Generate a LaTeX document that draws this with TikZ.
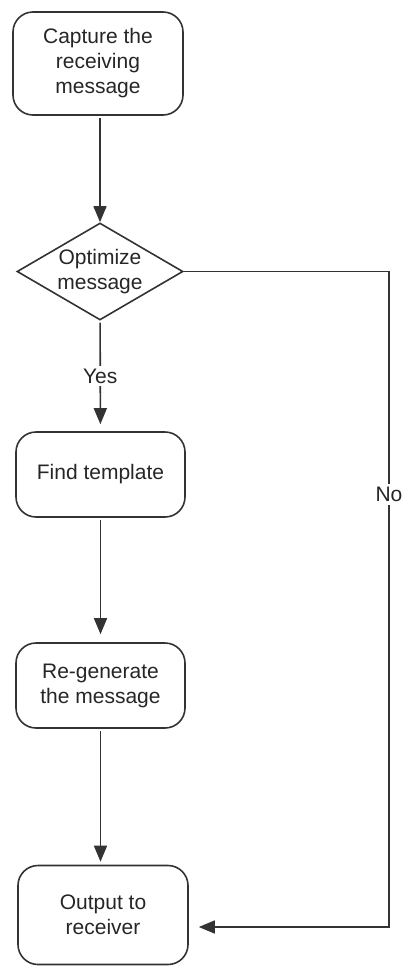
\documentclass[tikz,border=0pt]{standalone}
\usepackage{fontspec}
\setmainfont{Liberation Sans}
\usetikzlibrary{shapes.geometric,arrows.meta}

\begin{document}
\begin{tikzpicture}[x=1pt,y=-1pt,line width=1.6,
	box/.style={draw=black!80,rounded corners=20,align=center,inner sep=0,text=black!85,font=\fontsize{21}{25}\selectfont},
	decide/.style={draw=black!80,diamond,aspect=1.68,inner sep=0,minimum width=166,minimum height=97,align=center,text=black!85,font=\fontsize{21}{25}\selectfont},
	flow/.style={draw=black!80,-{Triangle[length=16,width=13]},shorten >=7,shorten <=2},
	tag/.style={fill=white,inner sep=3,text=black!85,font=\fontsize{21}{25}\selectfont}]
			\useasboundingbox (0,0) rectangle (405,967);
			\node[box,minimum width=170,minimum height=103] (capture) at (98,63.5) {Capture the\\receiving\\message};
			\node[decide] (optimize) at (100,271.5) {Optimize\\message};
			\node[box,minimum width=169,minimum height=85] (find) at (100.5,474.5) {Find template};
			\node[box,minimum width=169,minimum height=85] (regen) at (100.5,685.5) {Re-generate\\the message};
			\node[box,minimum width=170,minimum height=99] (output) at (103,915) {Output to\\receiver};
			\coordinate (noturn) at (389,927);
			\draw[flow,shorten >=0] (optimize.north |- capture.south) -- (optimize.north);
			\draw[flow] (optimize) -- node[tag]{Yes} (find);
			\draw[flow,shorten >=8] (find) -- (regen);
			\draw[flow,shorten >=3] (regen.south) -- (regen.south |- output.north);
			\draw[flow,shorten <=0,shorten >=10] (optimize.east) -| node[tag,pos=0.67]{No} (noturn) -- (noturn -| output.east);
		\end{tikzpicture}
\end{document}
